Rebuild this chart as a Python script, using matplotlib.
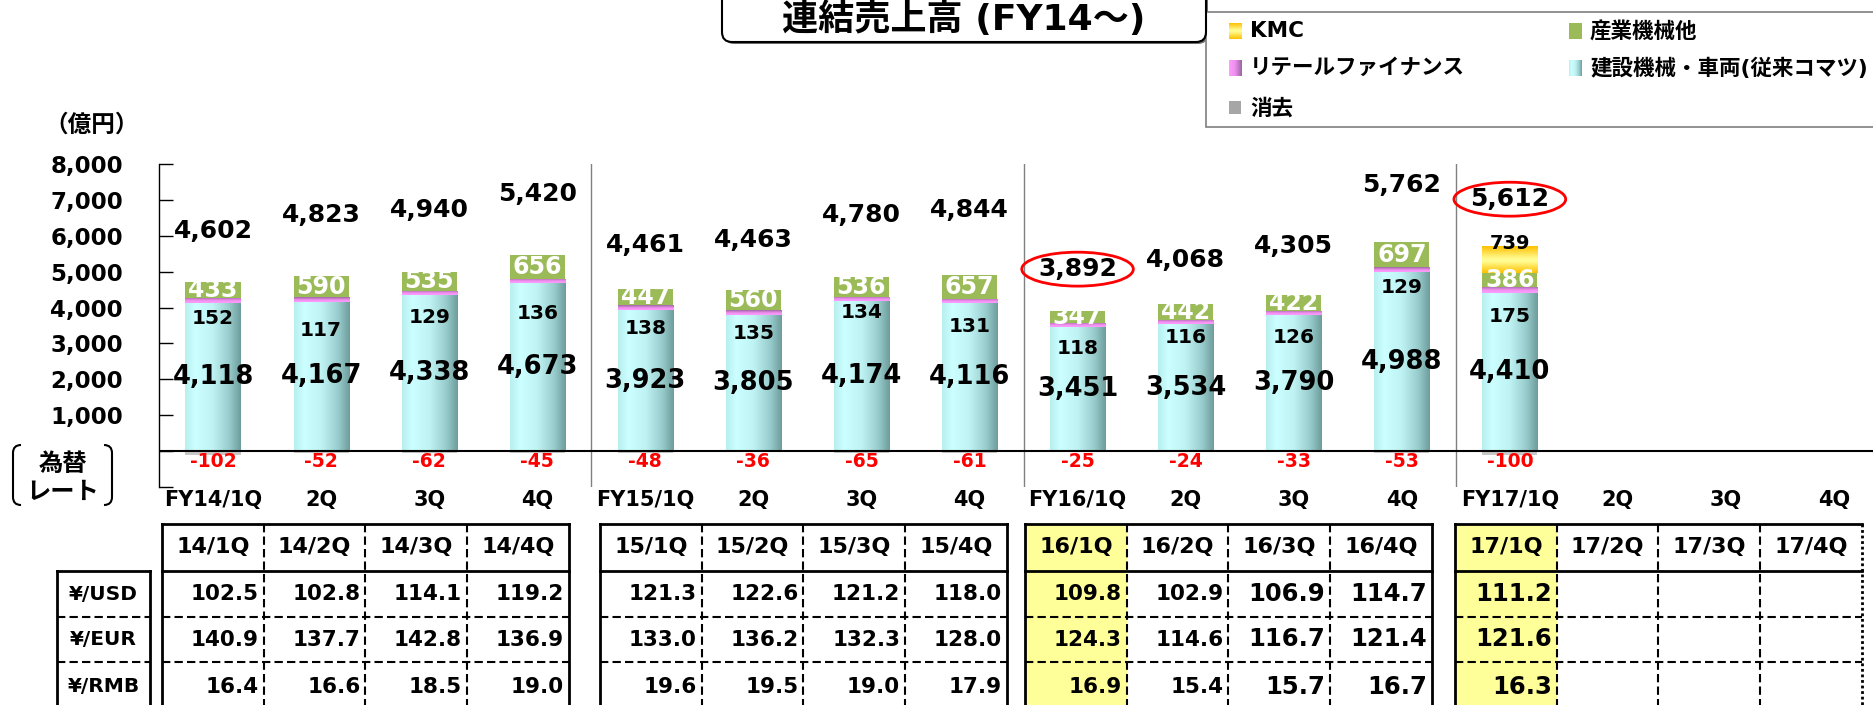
import numpy as np
import matplotlib.pyplot as plt
from matplotlib.colors import LinearSegmentedColormap
from matplotlib.patches import Rectangle, FancyBboxPatch, PathPatch
from matplotlib.path import Path
from matplotlib.transforms import Bbox, TransformedBbox

plt.rcParams['font.family'] = ['DejaVu Sans', 'Noto Sans CJK JP']
plt.rcParams['font.weight'] = 'bold'

# quarterly sales (100 million yen)
quarters = ['FY14/1Q', '2Q', '3Q', '4Q', 'FY15/1Q', '2Q', '3Q', '4Q',
            'FY16/1Q', '2Q', '3Q', '4Q', 'FY17/1Q', '2Q', '3Q', '4Q']
construction = [4118, 4167, 4338, 4673, 3923, 3805, 4174, 4116, 3451, 3534, 3790, 4988, 4410]
retail_finance = [152, 117, 129, 136, 138, 135, 134, 131, 118, 116, 126, 129, 175]
industrial = [433, 590, 535, 656, 447, 560, 536, 657, 347, 442, 422, 697, 386]
kmc = [0, 0, 0, 0, 0, 0, 0, 0, 0, 0, 0, 0, 739]
elimination = [-102, -52, -62, -45, -48, -36, -65, -61, -25, -24, -33, -53, -100]
totals = [4602, 4823, 4940, 5420, 4461, 4463, 4780, 4844, 3892, 4068, 4305, 5762, 5612]
circled = [8, 12]

# exchange rates
rate_quarters = ['14/1Q', '14/2Q', '14/3Q', '14/4Q', '15/1Q', '15/2Q', '15/3Q', '15/4Q',
                 '16/1Q', '16/2Q', '16/3Q', '16/4Q', '17/1Q', '17/2Q', '17/3Q', '17/4Q']
rate_names = ['¥/USD', '¥/EUR', '¥/RMB']
usd = [102.5, 102.8, 114.1, 119.2, 121.3, 122.6, 121.2, 118.0, 109.8, 102.9, 106.9, 114.7, 111.2]
eur = [140.9, 137.7, 142.8, 136.9, 133.0, 136.2, 132.3, 128.0, 124.3, 114.6, 116.7, 121.4, 121.6]
rmb = [16.4, 16.6, 18.5, 19.0, 19.6, 19.5, 19.0, 17.9, 16.9, 15.4, 15.7, 16.7, 16.3]

# hand-placed label nudges (data units)
total_lift = [1526, 1751, 1773, 1739, 1277, 1414, 1794, 1869, 1178, 1252, 1405, 1647, 1407]
retail_drop = [413, 797, 605, 829, 497, 518, 302, 634, 582, 359, 615, 420, 650]

cyan_cm = LinearSegmentedColormap.from_list(
    'cyan', [(0, '#b8efef'), (0.18, '#ccffff'), (0.5, '#bff3f3'), (0.8, '#98cccc'), (1, '#6e9d9d')])
purple_cm = LinearSegmentedColormap.from_list(
    'purple', [(0, '#ff9cff'), (0.45, '#f090f0'), (1, '#9a66a0')])
kmc_cm = LinearSegmentedColormap.from_list(
    'kmc', [(0, '#ffc000'), (0.45, '#ffff99'), (0.6, '#fff480'), (1, '#ffc000')])
green = '#9bbb59'
gray = '#c8c8c8'


def shade(ax, rect, cmap, vertical=False):
    x0, y0 = rect.get_x(), rect.get_y()
    w, h = rect.get_width(), rect.get_height()
    ramp = np.linspace(0, 1, 64)
    img = ramp[:, None] if vertical else ramp[None, :]
    im = ax.imshow(img, cmap=cmap, extent=(x0, x0 + w, y0, y0 + h), origin='lower',
                   aspect='auto', interpolation='bicubic', zorder=rect.get_zorder() + 0.1)
    im.set_clip_path(rect)


W, H = 1874, 705
fig = plt.figure(figsize=(W / 100, H / 100), dpi=100)
ax = fig.add_axes([159 / W, 1 - 487 / H, 1 - 159 / W, (487 - 164) / H])

x = np.arange(len(construction))
cons = np.array(construction)
ret = np.array(retail_finance)
ind = np.array(industrial)
km = np.array(kmc)
bw = 0.51

b_cons = ax.bar(x, cons, bw, color='#ccffff', zorder=2)
b_ret = ax.bar(x, ret, bw, bottom=cons, color='#e090e0', zorder=2)
b_ind = ax.bar(x, ind, bw, bottom=cons + ret, color=green, zorder=2)
b_kmc = ax.bar(x, km, bw, bottom=cons + ret + ind, color='#ffe060', zorder=2)
ax.bar(x, elimination, bw, color=gray, zorder=2)

for r in b_cons:
    shade(ax, r, cyan_cm)
for r in b_ret:
    shade(ax, r, purple_cm, vertical=True)
for r, v in zip(b_kmc, kmc):
    if v:
        shade(ax, r, kmc_cm, vertical=True)

for i in x:
    ax.text(i, cons[i] / 2, f'{cons[i]:,}', ha='center', va='center', fontsize=18.5, zorder=6)
    ax.text(i, cons[i] - retail_drop[i], f'{ret[i]}', ha='center', va='center', fontsize=14.5, zorder=6)
    r = b_ind[i]
    t = ax.text(i, r.get_y() + r.get_height() / 2, f'{ind[i]}', color='white',
                ha='center', va='center', fontsize=17, zorder=6)
    t.set_clip_box(TransformedBbox(Bbox.from_bounds(r.get_x(), r.get_y(), r.get_width(), r.get_height()),
                                   ax.transData))
    if km[i]:
        top = r.get_y() + r.get_height() + km[i]
        ax.text(i, top + 80, f'{km[i]}', ha='center', va='center', fontsize=14, zorder=6)
    ax.text(i, -280, f'{elimination[i]}', color='red', ha='center', va='center', fontsize=13.5, zorder=6)
    bbox = None
    if i in circled:
        bbox = dict(boxstyle='ellipse,pad=0.0', fc='none', ec='red', lw=2)
    ax.text(i, totals[i] + total_lift[i], f'{totals[i]:,}', ha='center', va='center',
            fontsize=18, zorder=6, bbox=bbox)

ax.axhline(0, color='black', lw=1.5, zorder=4)
for sep in (3.5, 7.5, 11.5):
    ax.axvline(sep, color='#808080', lw=1, zorder=1)

ax.set_xlim(-0.5, 15.37)
ax.set_ylim(-1000, 8000)
ax.set_xticks(range(len(quarters)))
ax.set_xticklabels(quarters, fontsize=15)
ax.tick_params(axis='x', length=0, pad=2)
yt = list(range(-1000, 9000, 1000))
ax.set_yticks(yt)
ax.set_yticklabels([f'{v:,}' if v > 0 else '' for v in yt], fontsize=16.5)
ax.tick_params(axis='y', direction='in', length=10, width=1, pad=26)
for s in ('top', 'right', 'bottom'):
    ax.spines[s].set_visible(False)
ax.spines['left'].set_linewidth(1)

# overlay in pixel coordinates for title, legend, bracket and rate table
ov = fig.add_axes([0, 0, 1, 1], zorder=5)
ov.set_xlim(0, W)
ov.set_ylim(H, 0)
ov.axis('off')
ov.patch.set_alpha(0)

ov.text(92, 125, '（億円）', ha='center', va='center', fontsize=17)

# title box
ov.add_patch(FancyBboxPatch((724, -40), 484, 84, boxstyle='round,pad=0,rounding_size=10',
                            fc='#707070', ec='none', zorder=1))
ov.add_patch(FancyBboxPatch((722, -40), 484, 82, boxstyle='round,pad=0,rounding_size=10',
                            fc='white', ec='black', lw=1.5, zorder=2))
ov.text(964, 19, '連結売上高 (FY14～)', ha='center', va='center', fontsize=26, zorder=3)

# legend
ov.add_patch(Rectangle((1206, 12), 700, 115, fc='white', ec='#7f7f7f', lw=1.2, zorder=1))
legend_items = [('KMC', kmc_cm, True, 1229, 31), ('産業機械他', None, False, 1569, 31),
                ('リテールファイナンス', purple_cm, False, 1229, 68),
                ('建設機械・車両(従来コマツ)', cyan_cm, False, 1569, 68),
                ('消去', None, False, 1229, 108)]
for name, cm, vert, lx, ly in legend_items:
    if name == '消去':
        m = Rectangle((lx, ly - 7), 12, 13, fc='#a6a6a6', ec='none', zorder=2)
        ov.add_patch(m)
    elif cm is None:
        m = Rectangle((lx, ly - 8), 13, 16, fc=green, ec='none', zorder=2)
        ov.add_patch(m)
    else:
        m = Rectangle((lx, ly - 8), 13, 16, fc='none', ec='none', zorder=2)
        ov.add_patch(m)
        shade(ov, m, cm, vertical=vert)
    ov.text(lx + 21, ly, name, ha='left', va='center', fontsize=15.5, zorder=3)

# bracket around the rate caption
for side in (1, -1):
    cx = 13 if side == 1 else 112
    verts = [(cx + 8 * side, 445), (cx, 445), (cx, 453), (cx, 497), (cx, 505), (cx + 8 * side, 505)]
    codes = [Path.MOVETO, Path.CURVE3, Path.CURVE3, Path.LINETO, Path.CURVE3, Path.CURVE3]
    ov.add_patch(PathPatch(Path(verts, codes), fc='none', ec='black', lw=1.5))
ov.text(63, 464, '為替', ha='center', va='center', fontsize=17.5)
ov.text(63, 492, 'レート', ha='center', va='center', fontsize=17.5)

# rate table
rates = [usd, eur, rmb]
top, head_bot, bot = 524, 571, 712
row_edges = [571, 617, 662, 712]
group_left = [162, 600, 1025, 1455]
col_w = 101.7
thick = dict(color='black', lw=2, solid_capstyle='projecting', zorder=4)
dash = dict(color='black', lw=1.5, ls=(0, (4, 2)), zorder=3)
highlight = [8, 12]
big = [10, 11, 12]

for g, gx in enumerate(group_left):
    gr = gx + 4 * col_w
    for c in range(4):
        idx = 4 * g + c
        cx0 = gx + c * col_w
        if idx in highlight:
            ov.add_patch(Rectangle((cx0, top), col_w, bot - top, fc='#ffff99', ec='none', zorder=1))
        ov.text(cx0 + col_w / 2, 547, rate_quarters[idx], ha='center', va='center', fontsize=16, zorder=5)
        for k, series in enumerate(rates):
            if idx < len(series):
                yc = (row_edges[k] + row_edges[k + 1]) / 2
                ov.text(cx0 + col_w - 5, yc, f'{series[idx]:.1f}', ha='right', va='center',
                        fontsize=17.5 if idx in big else 15.5, zorder=5)
        if c > 0:
            ov.plot([cx0, cx0], [top, bot], **dash)
    for yl in row_edges[1:3]:
        ov.plot([gx, gr], [yl, yl], **dash)
    ov.plot([gx, gr], [top, top], **thick)
    ov.plot([gx, gr], [head_bot, head_bot], **thick)
    ov.plot([gx, gx], [top, bot], **thick)
    if g == len(group_left) - 1:
        ov.plot([gr, gr], [top, bot], color='black', lw=2, ls=(0, (1, 1)), zorder=4)
    else:
        ov.plot([gr, gr], [top, bot], **thick)

# row captions
ov.plot([57, 150], [head_bot, head_bot], **thick)
ov.plot([57, 57], [head_bot, bot], **thick)
ov.plot([150, 150], [head_bot, bot], **thick)
for yl in row_edges[1:3]:
    ov.plot([57, 150], [yl, yl], **dash)
for k, name in enumerate(rate_names):
    ov.text(103.5, (row_edges[k] + row_edges[k + 1]) / 2, name, ha='center', va='center',
            fontsize=14.5, zorder=5)

ov.set_xlim(0, W)
ov.set_ylim(H, 0)
ax.set_xlim(-0.5, 15.37)
ax.set_ylim(-1000, 8000)

fig.savefig('out.png', dpi=100)
